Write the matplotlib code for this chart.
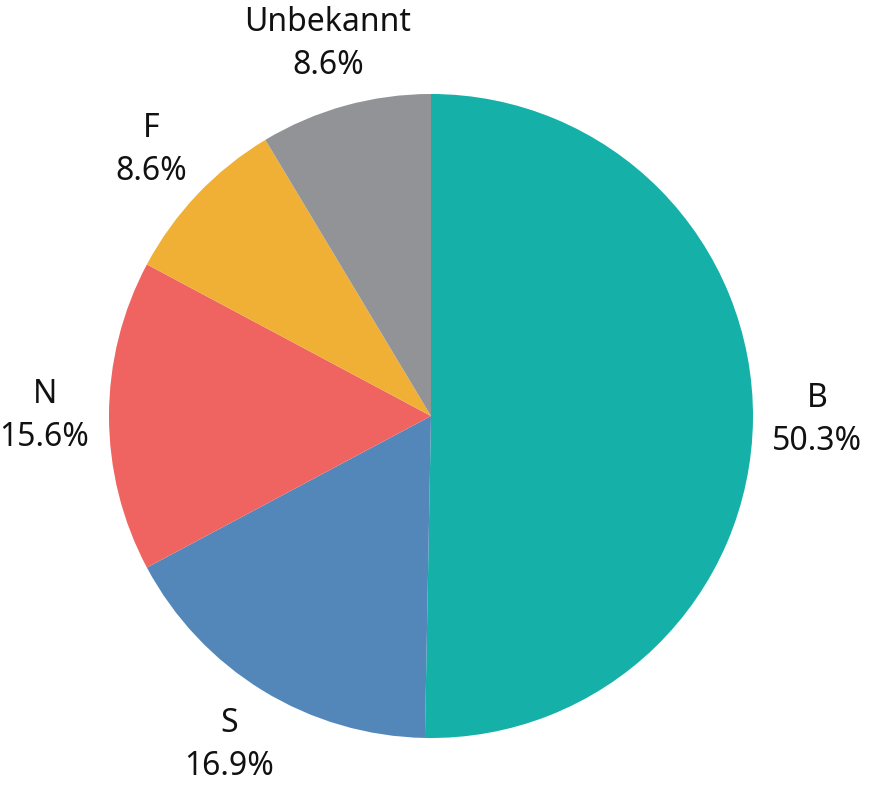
import numpy as np
import matplotlib
matplotlib.use("Agg")
import matplotlib.pyplot as plt

plt.rcParams["font.family"] = ["Noto Sans", "DejaVu Sans"]

labels = ["B", "S", "N", "F", "Unbekannt"]
shares = [50.3, 16.9, 15.6, 8.6, 8.6]
colors = ["#15B0A8", "#5387B9", "#EF6461", "#F0B035", "#929397"]

W, H = 869, 792
fig = plt.figure(figsize=(W / 100, H / 100), dpi=100)
cx, cy, r = 431, 416, 322
ax = fig.add_axes([(cx - r) / W, (H - cy - r) / H, 2 * r / W, 2 * r / H])

wedges, _ = ax.pie(shares, colors=colors, startangle=90, counterclock=False,
                   radius=1.0, wedgeprops=dict(linewidth=0))

# labels centred on the mid angle of each wedge
for w, lab, val in zip(wedges, labels, shares):
    ang = np.deg2rad((w.theta1 + w.theta2) / 2)
    x, y = 1.2 * np.cos(ang), 1.2 * np.sin(ang)
    ax.text(x, y, f"{lab}\n{val:.1f}%", ha="center", va="center",
            fontsize=23, color="#111111", linespacing=1.4)

ax.set_xlim(-1, 1)
ax.set_ylim(-1, 1)
ax.set_aspect("equal")
ax.axis("off")

fig.savefig("out.png", dpi=100)
plt.close(fig)
